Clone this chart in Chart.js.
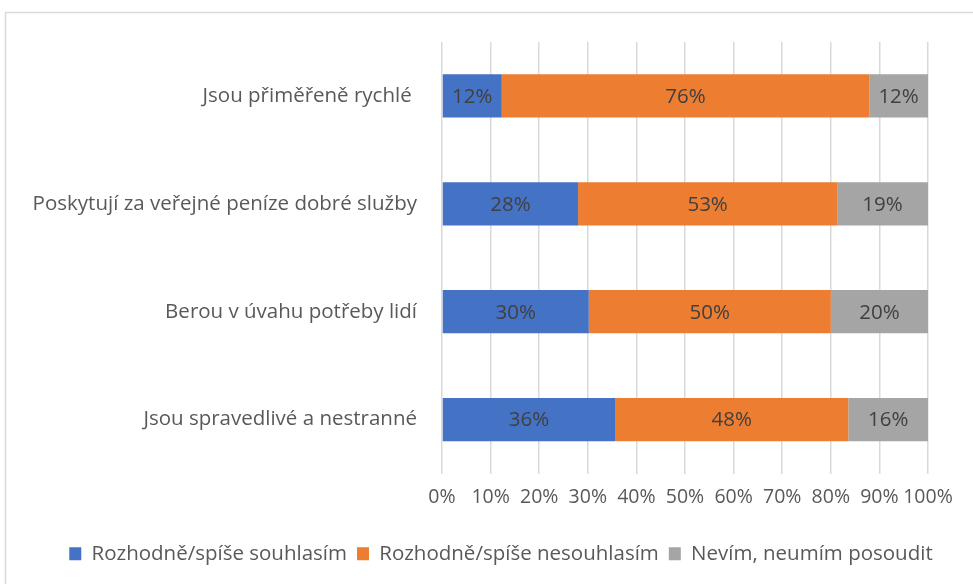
<!DOCTYPE html>
<html>
<head>
<meta charset="utf-8">
<script src="https://cdn.jsdelivr.net/npm/chart.js@4/dist/chart.umd.min.js"></script>
<style>
html,body{margin:0;padding:0;background:#fff;}
#wrap{position:relative;width:973px;height:584px;}
</style>
</head>
<body>
<div id="wrap"><canvas id="c" width="973" height="584"></canvas></div>
<script>
const categories = ["Jsou přiměřeně rychlé ", "Poskytují za veřejné peníze dobré služby", "Berou v úvahu potřeby lidí", "Jsou spravedlivé a nestranné"];
const seriesNames = ["Rozhodně/spíše souhlasím", "Rozhodně/spíše nesouhlasím", "Nevím, neumím posoudit"];
const agree = [12.3, 28.0, 30.2, 35.6];
const disagree = [75.6, 53.3, 49.8, 48.0];
const dontKnow = [12.1, 18.7, 20.0, 16.4];
const xTicks = [0, 10, 20, 30, 40, 50, 60, 70, 80, 90, 100];

const FONT = "'Open Sans', sans-serif";

const borderPlugin = {
  id: 'outerBorder',
  beforeDraw(chart) {
    const ctx = chart.ctx;
    ctx.save();
    ctx.fillStyle = '#fff';
    ctx.fillRect(0, 0, chart.width, chart.height);
    ctx.strokeStyle = '#d9d9d9';
    ctx.lineWidth = 1.5;
    ctx.strokeRect(5.5, 12.5, chart.width + 20, chart.height + 20);
    ctx.restore();
  }
};

const legendShift = {
  id: 'legendShift',
  afterLayout(chart) {
    if (chart.legend) {
      chart.legend.left += 37;
      chart.legend.right += 37;
    }
  }
};

const labelPlugin = {
  id: 'barLabels',
  afterDatasetsDraw(chart) {
    const ctx = chart.ctx;
    ctx.save();
    ctx.font = "20.5px " + FONT;
    ctx.fillStyle = '#404040';
    ctx.textAlign = 'center';
    ctx.textBaseline = 'middle';
    chart.data.datasets.forEach((ds, i) => {
      const meta = chart.getDatasetMeta(i);
      meta.data.forEach((bar, j) => {
        const p = bar.getProps(['x', 'base', 'y'], true);
        const cx = (p.x + p.base) / 2;
        ctx.fillText(Math.round(ds.data[j]) + '%', cx, p.y + 1);
      });
    });
    ctx.restore();
  }
};

new Chart(document.getElementById('c'), {
  type: 'bar',
  data: {
    labels: categories,
    datasets: [
      { label: seriesNames[0], data: agree, backgroundColor: '#4472C4' },
      { label: seriesNames[1], data: disagree, backgroundColor: '#ED7D31' },
      { label: seriesNames[2], data: dontKnow, backgroundColor: '#A5A5A5' }
    ]
  },
  options: {
    indexAxis: 'y',
    responsive: false,
    animation: false,
    devicePixelRatio: 1,
    categoryPercentage: 1.0,
    barPercentage: 0.4,
    layout: { padding: { left: 0, top: 42, right: 45, bottom: 10 } },
    scales: {
      x: {
        stacked: true,
        min: 0, max: 100,
        afterBuildTicks(scale) { scale.ticks = xTicks.map(v => ({ value: v })); },
        afterFit(scale) { scale.height = 60; },
        ticks: {
          callback: v => v + '%',
          font: { family: FONT, size: 19.5 },
          color: '#595959',
          padding: 12,
          maxRotation: 0,
          autoSkip: false
        },
        grid: { color: '#d9d9d9', lineWidth: 1.5, drawTicks: false },
        border: { display: false }
      },
      y: {
        stacked: true,
        afterFit(scale) { scale.width = 442; },
        ticks: {
          font: { family: FONT, size: 20.5 },
          color: '#595959',
          padding: 25
        },
        grid: { display: false, drawTicks: false },
        border: { display: false }
      }
    },
    plugins: {
      legend: {
        position: 'bottom',
        labels: {
          boxWidth: 12,
          boxHeight: 13,
          padding: 10,
          font: { family: FONT, size: 20.5 },
          color: '#595959'
        }
      },
      tooltip: { enabled: false }
    }
  },
  plugins: [borderPlugin, legendShift, labelPlugin]
});
</script>
</body>
</html>
